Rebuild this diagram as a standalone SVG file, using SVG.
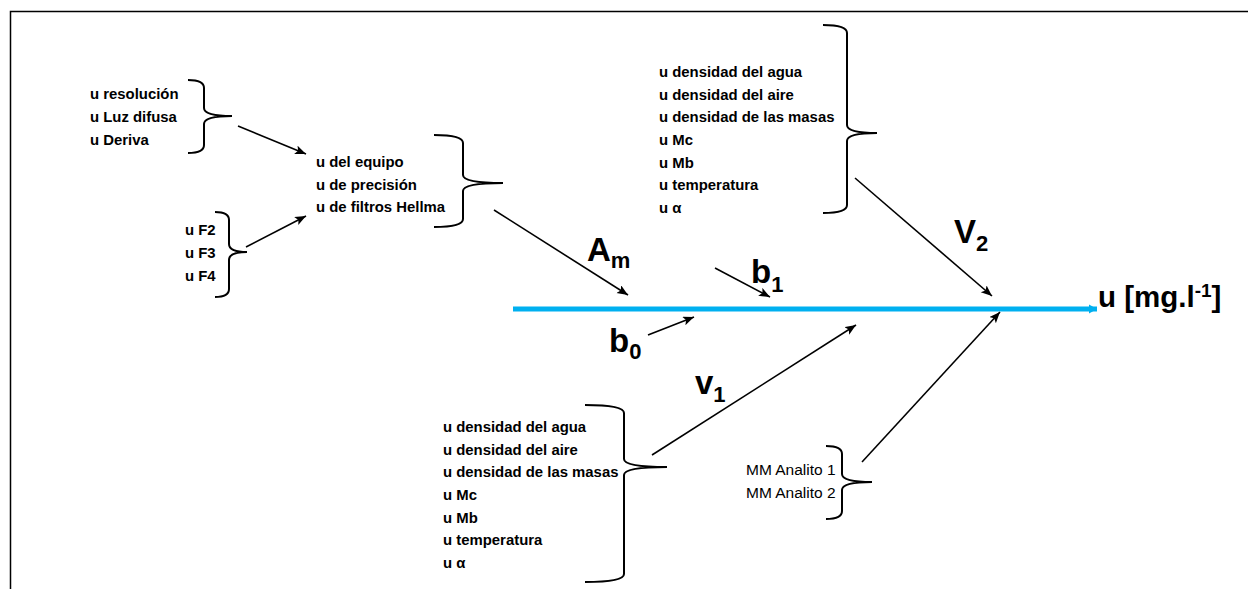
<svg xmlns="http://www.w3.org/2000/svg" width="1248" height="589" viewBox="0 0 1248 589">
<defs>
<marker id="ah" markerUnits="userSpaceOnUse" markerWidth="12" markerHeight="10" refX="11" refY="4.5" orient="auto">
<path d="M0,0 L11,4.5 L0,9 L2.5,4.5 Z" fill="#000"/>
</marker>
<marker id="bh" markerUnits="userSpaceOnUse" markerWidth="10" markerHeight="10" refX="8" refY="5" orient="auto">
<path d="M0,0.5 L8,5 L0,9.5 Z" fill="#00b0f0"/>
</marker>
</defs>
<style>
.t{font-family:"Liberation Sans",Arial,sans-serif;font-weight:bold;font-size:14.9px;fill:#000}
.r{font-family:"Liberation Sans",Arial,sans-serif;font-size:15.5px;fill:#000}
.big{font-family:"Liberation Sans",Arial,sans-serif;font-weight:bold;font-size:33px;fill:#000}
.sub{font-family:"Liberation Sans",Arial,sans-serif;font-weight:bold;font-size:22px;fill:#000}
.br{fill:none;stroke:#000;stroke-width:2}
.ar{fill:none;stroke:#000;stroke-width:1.6;marker-end:url(#ah)}
</style>
<rect width="1248" height="589" fill="#fff"/>
<rect x="10.5" y="11.5" width="1300" height="700" fill="none" stroke="#000" stroke-width="1.5"/>

<g id="n-resolucion">
<text class="t" x="90" y="99">u resolución</text>
<text class="t" x="90" y="122">u Luz difusa</text>
<text class="t" x="90" y="145">u Deriva</text>
<path class="br" d="M188,80 Q204,80 204,88 L204,108 Q204,116 232,116 Q204,116 204,124 L204,145 Q204,153 188,153"/>
</g>

<g id="n-F">
<text class="t" x="185" y="235">u F2</text>
<text class="t" x="185" y="258">u F3</text>
<text class="t" x="185" y="281">u F4</text>
<path class="br" d="M215,212 Q229,212 229,220 L229,244 Q229,252 247,252 Q229,252 229,260 L229,289 Q229,297 215,297"/>
</g>

<g id="n-equipo">
<text class="t" x="316" y="167">u del equipo</text>
<text class="t" x="316" y="190">u de precisión</text>
<text class="t" x="316" y="212">u de filtros Hellma</text>
<path class="br" d="M434,135 Q463,135 463,143 L463,175 Q463,183 503,183 Q463,183 463,191 L463,219 Q463,227 434,227"/>
</g>

<g id="n-V2">
<text class="t" x="659" y="77">u densidad del agua</text>
<text class="t" x="659" y="100">u densidad del aire</text>
<text class="t" x="659" y="122">u densidad de las masas</text>
<text class="t" x="659" y="145">u Mc</text>
<text class="t" x="659" y="168">u Mb</text>
<text class="t" x="659" y="190">u temperatura</text>
<text class="t" x="659" y="213">u α</text>
<path class="br" d="M823,25 Q847,25 847,33 L847,125 Q847,133 877,133 Q847,133 847,141 L847,205 Q847,213 823,213"/>
</g>

<g id="n-V1">
<text class="t" x="443" y="432">u densidad del agua</text>
<text class="t" x="443" y="455">u densidad del aire</text>
<text class="t" x="443" y="477">u densidad de las masas</text>
<text class="t" x="443" y="500">u Mc</text>
<text class="t" x="443" y="523">u Mb</text>
<text class="t" x="443" y="545">u temperatura</text>
<text class="t" x="443" y="568">u α</text>
<path class="br" d="M585,405 Q624,405 624,413 L624,459 Q624,467 667,467 Q624,467 624,475 L624,574 Q624,582 585,582"/>
</g>

<g id="n-MM">
<text class="r" x="746" y="475">MM Analito 1</text>
<text class="r" x="746" y="498">MM Analito 2</text>
<path class="br" d="M826,446 Q842,446 842,454 L842,474 Q842,482 872,482 Q842,482 842,490 L842,511 Q842,519 826,519"/>
</g>

<g id="n-output">
<text x="1098" y="307" style="font-family:'Liberation Sans',Arial,sans-serif;font-weight:bold;font-size:29.5px">u [mg.l<tspan dy="-10" font-size="19">-1</tspan><tspan dy="10">]</tspan></text>
</g>

<g id="labels">
<text class="big" x="587" y="261">A<tspan class="sub" dy="7">m</tspan></text>
<text class="big" x="751" y="283">b<tspan class="sub" dy="9">1</tspan></text>
<text class="big" x="609" y="352">b<tspan class="sub" dy="7">0</tspan></text>
<text class="big" x="954" y="243">V<tspan class="sub" dy="8">2</tspan></text>
<text class="big" x="695" y="394">v<tspan class="sub" dy="8">1</tspan></text>
</g>

<g id="connectors">
<line x1="513" y1="309" x2="1097" y2="309" stroke="#00b0f0" stroke-width="5" marker-end="url(#bh)"/>
<line class="ar" x1="238" y1="126" x2="306" y2="154"/>
<line class="ar" x1="246" y1="247" x2="306" y2="216"/>
<line class="ar" x1="494" y1="210" x2="628" y2="295"/>
<line class="ar" x1="715" y1="268" x2="770" y2="297"/>
<line class="ar" x1="648" y1="335" x2="694" y2="317"/>
<line class="ar" x1="855" y1="178" x2="992" y2="296"/>
<line class="ar" x1="652" y1="455" x2="856" y2="325"/>
<line class="ar" x1="862" y1="462" x2="1000" y2="312"/>
</g>
</svg>
